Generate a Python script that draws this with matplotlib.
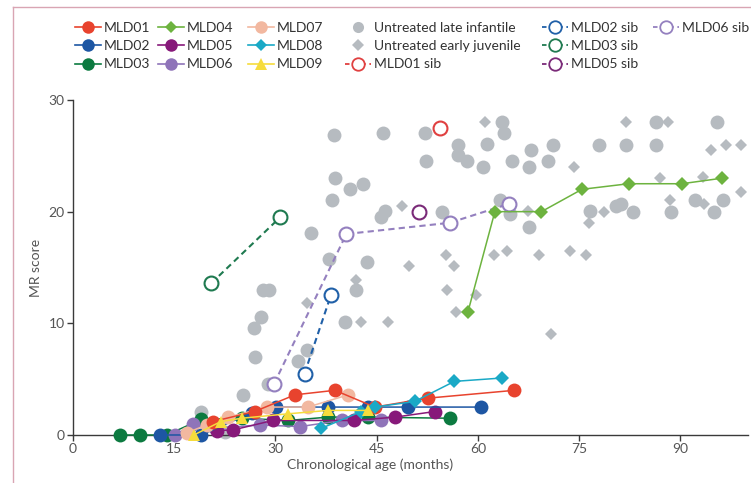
import matplotlib
matplotlib.use('Agg')
import matplotlib.pyplot as plt
from matplotlib.lines import Line2D

plt.rcParams['font.family'] = ['Lato', 'DejaVu Sans']

# ---------------- data ----------------
li_x = [38.7, 45.9, 52.1, 63.6, 63.8, 57.1, 61.3, 71.1, 67.9, 57.0, 58.3, 52.3, 60.7, 65.1, 67.6, 70.4,
        38.8, 41.0, 43.0, 38.4, 46.2, 45.7, 35.3, 38.0, 43.5, 41.9, 28.2, 29.0, 27.9, 26.8, 40.3, 26.9,
        34.6, 33.4, 28.9, 25.2, 19.0, 22.5, 54.7, 63.3, 64.7, 67.5,
        86.4, 95.4, 78.0, 81.9, 86.4, 76.6, 80.4, 81.2, 82.9, 88.6, 92.1, 94.9, 96.3]
li_y = [26.9, 27.0, 27.0, 28.0, 27.0, 26.0, 26.1, 26.0, 25.5, 25.1, 24.5, 24.5, 24.0, 24.5, 24.0, 24.5,
        23.0, 22.0, 22.5, 21.0, 20.1, 19.5, 18.1, 15.8, 15.5, 13.0, 13.0, 13.0, 10.6, 9.6, 10.1, 7.0,
        7.6, 6.6, 4.6, 3.6, 2.1, 0.3, 20.0, 21.0, 19.8, 18.6,
        28.0, 28.0, 26.0, 26.0, 26.0, 20.1, 20.5, 20.7, 20.0, 20.0, 21.0, 20.0, 21.0]

ej_x = [61.1, 74.2, 48.8, 67.4, 55.3, 56.5, 49.8, 62.3, 64.3, 69.0, 73.6, 55.4, 59.7, 56.7, 70.8,
        42.0, 34.7, 42.6, 46.6, 82.0, 88.1, 94.5, 96.7, 98.9, 86.9, 93.4, 98.9, 78.7, 88.4, 93.5,
        76.4, 76.0]
ej_y = [28.0, 24.0, 20.5, 20.1, 16.1, 15.1, 15.1, 16.1, 16.5, 16.1, 16.5, 13.0, 12.5, 11.0, 9.0,
        13.9, 11.8, 10.1, 10.1, 28.0, 28.0, 25.5, 26.0, 26.0, 23.0, 23.1, 21.8, 20.0, 21.0, 20.7,
        19.0, 16.1]

mld01_x = [20.7, 26.9, 32.9, 38.8, 44.7, 52.6, 65.4]
mld01_y = [1.2, 2.1, 3.6, 4.0, 2.5, 3.3, 4.0]
mld02_x = [12.9, 19.0, 26.5, 30.1, 37.8, 43.7, 49.6, 60.5]
mld02_y = [0.0, 0.0, 2.0, 2.5, 2.5, 2.5, 2.5, 2.5]
mld03_x = [7.0, 10.0, 13.9, 19.0, 25.0, 31.9, 37.8, 43.7, 55.8]
mld03_y = [0.0, 0.0, 0.0, 1.4, 1.5, 1.3, 1.6, 1.6, 1.5]
mld04_x = [58.5, 62.5, 69.4, 75.4, 82.3, 90.2, 96.2]
mld04_y = [11.0, 20.0, 20.0, 22.0, 22.5, 22.5, 23.0]
mld05_x = [21.3, 23.7, 29.6, 41.7, 47.7, 53.6]
mld05_y = [0.4, 0.45, 1.3, 1.3, 1.6, 2.1]
mld06_x = [15.1, 17.8, 21.0, 27.7, 33.6, 39.8, 45.7]
mld06_y = [0.0, 0.95, 0.6, 0.9, 0.75, 1.3, 1.3]
mld07_x = [16.9, 19.8, 23.0, 28.7, 34.8, 40.8]
mld07_y = [0.2, 0.9, 1.6, 2.5, 2.5, 3.6]
mld08_x = [36.8, 42.7, 44.7, 50.6, 56.5, 63.5]
mld08_y = [0.6, 2.1, 2.5, 3.0, 4.8, 5.1]
mld09_x = [17.9, 21.9, 25.0, 31.9, 37.8, 43.7]
mld09_y = [0.0, 1.2, 1.5, 1.9, 2.2, 2.2]

sib01_x = [54.3]
sib01_y = [27.5]
sib02_x = [34.3, 38.2]
sib02_y = [5.5, 12.5]
sib03_x = [20.5, 30.7]
sib03_y = [13.6, 19.5]
sib05_x = [51.3]
sib05_y = [20.0]
sib06_x = [29.8, 40.5, 55.8, 64.6]
sib06_y = [4.6, 18.0, 19.0, 20.7]

x_ticks = [0, 15, 30, 45, 60, 75, 90]
y_ticks = [0, 10, 20, 30]

# ---------------- styles ----------------
C01 = '#e8432e'
C02 = '#1d56a3'
C03 = '#0c7a40'
C04 = '#6db33f'
C05 = '#87197a'
C06 = '#8f74b9'
C07 = '#f2b8a0'
C08 = '#1aa9c6'
C09 = '#f6dc3c'
GREY = '#b6bbc0'
CS01 = '#e04040'
CS02 = '#2060a8'
CS03 = '#1f7a50'
CS05 = '#7a2a78'
CS06 = '#9480bf'

fig = plt.figure(figsize=(7.51, 4.83), dpi=100)
ax = fig.add_axes([0.0972, 0.0994, 0.8988, 0.6936])

# untreated
ax.plot(li_x, li_y, 'o', color=GREY, ms=10, mew=0, zorder=1, clip_on=False)
ax.plot(ej_x, ej_y, 'D', color=GREY, ms=6.5, mew=0, zorder=1, clip_on=False)

# siblings
sib_kw = dict(ls=(0, (3, 2)), lw=1.5, marker='o', ms=10, mfc='white', mew=1.5, zorder=3, clip_on=False)
ax.plot(sib01_x, sib01_y, color=CS01, mec=CS01, **sib_kw)
ax.plot(sib02_x, sib02_y, color=CS02, mec=CS02, **sib_kw)
ax.plot(sib03_x, sib03_y, color=CS03, mec=CS03, **sib_kw)
ax.plot(sib05_x, sib05_y, color=CS05, mec=CS05, **sib_kw)
ax.plot(sib06_x, sib06_y, color=CS06, mec=CS06, **sib_kw)

# treated
tk = dict(lw=1.1, ms=10, mew=0, zorder=4, clip_on=False)
ax.plot(mld03_x, mld03_y, '-o', color=C03, **tk)
ax.plot(mld06_x, mld06_y, '-o', color=C06, **tk)
ax.plot(mld05_x, mld05_y, '-o', color=C05, **tk)
ax.plot(mld02_x, mld02_y, '-o', color=C02, **tk)
ax.plot(mld07_x, mld07_y, '-o', color=C07, **tk)
ax.plot(mld01_x, mld01_y, '-o', color=C01, **tk)
ax.plot(mld04_x, mld04_y, '-D', color=C04, lw=1.1, ms=7.5, mew=0, zorder=4, clip_on=False)
ax.plot(mld08_x, mld08_y, '-D', color=C08, lw=1.1, ms=7.5, mew=0, zorder=5, clip_on=False)
ax.plot(mld09_x, mld09_y, '-^', color=C09, lw=1.1, ms=9, mew=0, zorder=5, clip_on=False)

ax.set_xlim(0, 100)
ax.set_ylim(0, 30)
ax.set_xticks(x_ticks)
ax.set_yticks(y_ticks)
for s in ['top', 'right']:
    ax.spines[s].set_visible(False)
for s in ['left', 'bottom']:
    ax.spines[s].set_color('#3a3a3a')
    ax.spines[s].set_linewidth(1.0)
ax.tick_params(direction='out', length=4, width=1, color='#3a3a3a', labelcolor='#555555', labelsize=10, pad=2)
ax.set_xlabel('Chronological age (months)', fontsize=10, color='#555555', labelpad=2)
ax.xaxis.label.set_x(0.44)
ax.set_ylabel('MR score', fontsize=10, color='#555555', labelpad=5)

# pink frame
fig.add_artist(Line2D([13 / 751, 13 / 751], [0, 1 - 7 / 483], transform=fig.transFigure, color='#d9a5b3', lw=1))
fig.add_artist(Line2D([13 / 751, 1], [1 - 7 / 483, 1 - 7 / 483], transform=fig.transFigure, color='#d9a5b3', lw=1))

# legends
def tr(c, m='o', ms=9):
    return Line2D([], [], color=c, lw=1.2, marker=m, ms=ms, mew=0)

def sb(c):
    return Line2D([], [], color=c, ls=(0, (2.5, 2)), lw=1.3, marker='o', ms=9, mfc='white', mec=c, mew=1.3)

blank = Line2D([], [], ls='none')
leg_kw = dict(loc='upper left', frameon=False, fontsize=10, borderpad=0, borderaxespad=0,
              labelspacing=0.45, handletextpad=0.25, handlelength=1.85, labelcolor='#333333')
groups = [
    ([tr(C01), tr(C02), tr(C03)], ['MLD01', 'MLD02', 'MLD03'], 75),
    ([tr(C04, 'D', 6.5), tr(C05), tr(C06)], ['MLD04', 'MLD05', 'MLD06'], 158),
    ([tr(C07), tr(C08, 'D', 6.5), tr(C09, '^', 8)], ['MLD07', 'MLD08', 'MLD09'], 248),
    ([Line2D([], [], ls='none', marker='o', ms=8, color=GREY, mew=0),
      Line2D([], [], ls='none', marker='D', ms=6, color=GREY, mew=0), sb(CS01)],
     ['Untreated late infantile', 'Untreated early juvenile', 'MLD01 sib'], 345),
    ([sb(CS02), sb(CS03), sb(CS05)], ['MLD02 sib', 'MLD03 sib', 'MLD05 sib'], 542),
    ([sb(CS06), blank, blank], ['MLD06 sib', '', ''], 653),
]
for hs, ls_, xpx in groups:
    fig.legend(hs, ls_, bbox_to_anchor=(xpx / 751, 1 - 22 / 483), **leg_kw)

fig.savefig('out.png', dpi=100)
